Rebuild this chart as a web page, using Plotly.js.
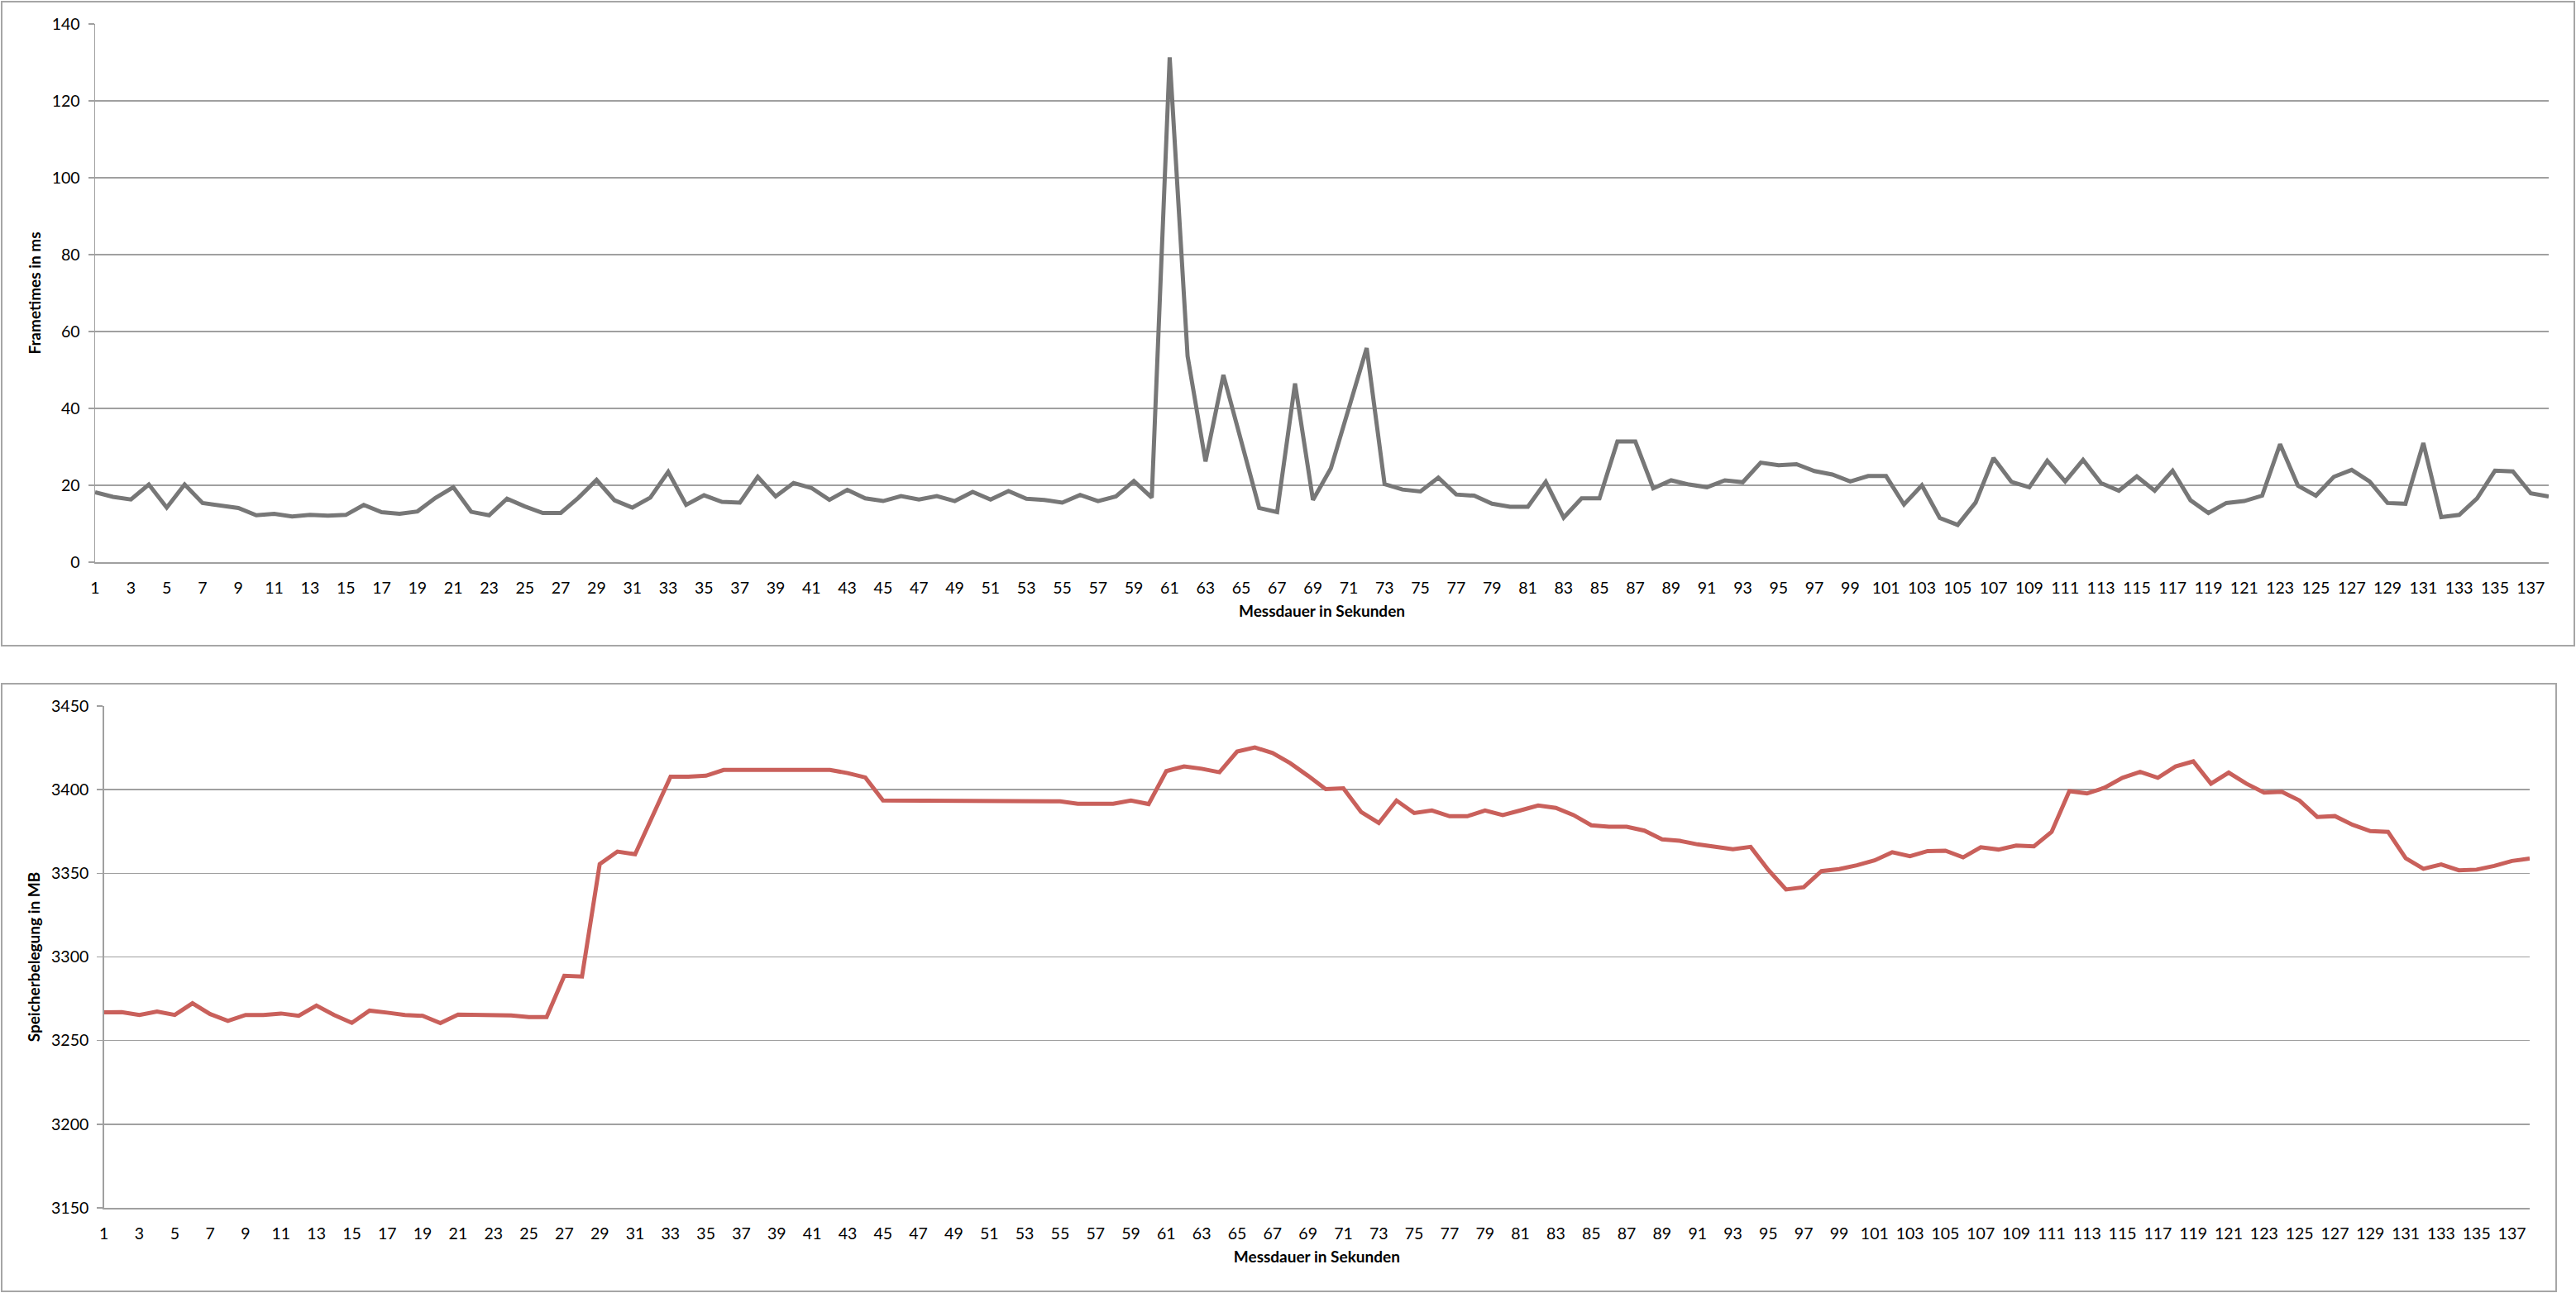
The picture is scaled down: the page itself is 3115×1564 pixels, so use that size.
<!DOCTYPE html>
<html>
<head>
<meta charset="utf-8">
<script src="https://cdn.plot.ly/plotly-3.0.1.min.js"></script>
<style>
html, body { margin: 0; padding: 0; background: #ffffff; }
#chart { width: 3115px; height: 1564px; }
</style>
</head>
<body>
<div id="chart"></div>
<script>
// Messdauer in Sekunden (categories 1..138)
const seconds = ["1","2","3","4","5","6","7","8","9","10","11","12","13","14","15","16","17","18","19","20","21","22","23","24","25","26","27","28","29","30","31","32","33","34","35","36","37","38","39","40","41","42","43","44","45","46","47","48","49","50","51","52","53","54","55","56","57","58","59","60","61","62","63","64","65","66","67","68","69","70","71","72","73","74","75","76","77","78","79","80","81","82","83","84","85","86","87","88","89","90","91","92","93","94","95","96","97","98","99","100","101","102","103","104","105","106","107","108","109","110","111","112","113","114","115","116","117","118","119","120","121","122","123","124","125","126","127","128","129","130","131","132","133","134","135","136","137","138"];

// tick labels shown (every second category)
const tickLabels = ["1","3","5","7","9","11","13","15","17","19","21","23","25","27","29","31","33","35","37","39","41","43","45","47","49","51","53","55","57","59","61","63","65","67","69","71","73","75","77","79","81","83","85","87","89","91","93","95","97","99","101","103","105","107","109","111","113","115","117","119","121","123","125","127","129","131","133","135","137"];

// Frametimes in ms
const frametimes = [
  18.2,17.0,16.3,20.2,14.2,20.2,15.4,14.7,14.1,12.2,
  12.6,11.9,12.3,12.1,12.3,14.9,13.0,12.6,13.2,16.7,
  19.5,13.1,12.2,16.5,14.5,12.8,12.8,16.8,21.4,16.1,
  14.2,16.8,23.5,14.9,17.4,15.7,15.5,22.2,17.1,20.6,
  19.3,16.2,18.8,16.6,15.9,17.2,16.3,17.2,15.9,18.3,
  16.3,18.5,16.5,16.2,15.5,17.5,15.9,17.1,21.1,16.8,
  131.3,53.6,26.2,48.7,31.4,14.1,13.0,46.5,16.2,24.4,
  40.0,55.7,20.3,18.9,18.4,22.0,17.6,17.3,15.2,14.4,
  14.4,20.9,11.6,16.6,16.6,31.4,31.4,19.2,21.3,20.2,
  19.5,21.3,20.8,25.9,25.2,25.5,23.7,22.8,21.0,22.4,
  22.4,15.0,20.0,11.5,9.7,15.5,27.1,20.9,19.5,26.4,
  21.0,26.6,20.6,18.6,22.3,18.6,23.8,16.1,12.8,15.4,
  15.9,17.3,30.7,19.9,17.3,22.2,24.0,21.0,15.4,15.2,
  31.0,11.7,12.3,16.6,23.8,23.6,17.9,17.1
];

// Speicherbelegung in MB
const memory = [
  3266.9,3267.0,3265.3,3267.4,3265.3,3272.3,3265.8,3261.8,3265.3,3265.3,
  3266.2,3264.8,3270.9,3265.3,3260.6,3267.9,3266.7,3265.3,3264.8,3260.4,
  3265.5,3265.5,3265.5,3265.0,3264.1,3264.1,3288.7,3288.3,3355.5,3363.0,
  3361.4,3385.0,3407.8,3407.8,3408.3,3411.8,3411.8,3411.8,3411.8,3411.8,
  3411.8,3411.8,3409.9,3407.3,3393.5,3393.5,3393.5,3393.5,3393.5,3393.5,
  3393.5,3393.5,3393.5,3393.0,3393.0,3391.6,3391.6,3391.6,3393.5,3391.4,
  3411.1,3413.9,3412.5,3410.4,3422.8,3425.2,3421.9,3415.8,3408.3,3400.3,
  3400.8,3386.7,3380.1,3393.5,3386.0,3387.6,3384.1,3384.1,3387.6,3384.8,
  3387.6,3390.5,3389.1,3384.8,3378.7,3377.8,3377.8,3375.5,3370.3,3369.4,
  3367.3,3365.8,3364.4,3365.8,3352.0,3340.3,3341.7,3351.3,3352.5,3354.8,
  3357.7,3362.6,3360.2,3363.3,3363.5,3359.5,3365.6,3364.2,3366.6,3366.1,
  3374.8,3399.1,3397.7,3401.2,3407.1,3410.6,3407.1,3413.9,3416.9,3403.6,
  3410.2,3403.6,3398.2,3398.7,3393.5,3383.7,3384.2,3379.0,3375.2,3374.8,
  3359.0,3352.7,3355.3,3351.8,3352.2,3354.4,3357.4,3358.8
];

const W = 3115, H = 1564;
const px = v => v / W;
const py = v => (H - v) / H;

const FONT = "Lato, 'Open Sans', 'DejaVu Sans', sans-serif";
const GRID = "#a0a0a0";
const tickFont = { family: FONT, size: 19.5, color: "#000000" };
const titleFont = { family: FONT, size: 19, color: "#000000", weight: "bold" };

const traces = [
  {
    type: "scatter", mode: "lines",
    x: seconds, y: frametimes,
    xaxis: "x", yaxis: "y",
    line: { color: "#777777", width: 5 },
    name: "Frametimes", hoverinfo: "x+y"
  },
  {
    type: "scatter", mode: "lines",
    x: seconds, y: memory,
    xaxis: "x2", yaxis: "y2",
    line: { color: "#c9605b", width: 5 },
    name: "Speicherbelegung", hoverinfo: "x+y"
  }
];

const xCommon = {
  type: "category",
  tickmode: "array",
  tickvals: tickLabels,
  ticktext: tickLabels,
  showgrid: false,
  showline: true,
  linecolor: GRID,
  linewidth: 1.5,
  ticks: "",
  tickfont: tickFont,
  ticklabelstandoff: 13,
  zeroline: false,
  automargin: false,
  fixedrange: true
};

const yCommon = {
  showgrid: true,
  gridcolor: GRID,
  gridwidth: 1.5,
  showline: true,
  linecolor: GRID,
  linewidth: 1.5,
  ticks: "outside",
  ticklen: 7,
  tickcolor: GRID,
  tickwidth: 1.5,
  tickfont: tickFont,
  ticklabelstandoff: 6,
  zeroline: false,
  automargin: false,
  fixedrange: true
};

const layout = {
  width: W, height: H,
  margin: { l: 0, r: 0, t: 0, b: 0 },
  paper_bgcolor: "#ffffff",
  plot_bgcolor: "#ffffff",
  showlegend: false,
  xaxis: Object.assign({}, xCommon, {
    domain: [px(115), px(3082)],
    anchor: "y",
    title: { text: "Messdauer in Sekunden", font: titleFont, standoff: 12 }
  }),
  yaxis: Object.assign({}, yCommon, {
    domain: [py(680), py(29)],
    anchor: "x",
    range: [0, 140],
    tickvals: [0, 20, 40, 60, 80, 100, 120, 140],
    title: { text: "Frametimes in ms", font: titleFont, standoff: 8 }
  }),
  xaxis2: Object.assign({}, xCommon, {
    domain: [px(125.7), px(3059)],
    anchor: "y2",
    title: { text: "Messdauer in Sekunden", font: titleFont, standoff: 12 }
  }),
  yaxis2: Object.assign({}, yCommon, {
    domain: [py(1461), py(854)],
    anchor: "x2",
    range: [3150, 3450],
    tickvals: [3150, 3200, 3250, 3300, 3350, 3400, 3450],
    title: { text: "Speicherbelegung in MB", font: titleFont, standoff: 8 }
  }),
  shapes: [
    { type: "rect", xref: "paper", yref: "paper", layer: "below",
      x0: px(2), x1: px(3113), y0: py(781), y1: py(2),
      line: { color: "#a6a6a6", width: 2 }, fillcolor: "rgba(0,0,0,0)" },
    { type: "rect", xref: "paper", yref: "paper", layer: "below",
      x0: px(2), x1: px(3091), y0: py(1562), y1: py(827),
      line: { color: "#a6a6a6", width: 2 }, fillcolor: "rgba(0,0,0,0)" }
  ]
};

Plotly.newPlot("chart", traces, layout, { staticPlot: true, displayModeBar: false });
</script>
</body>
</html>
